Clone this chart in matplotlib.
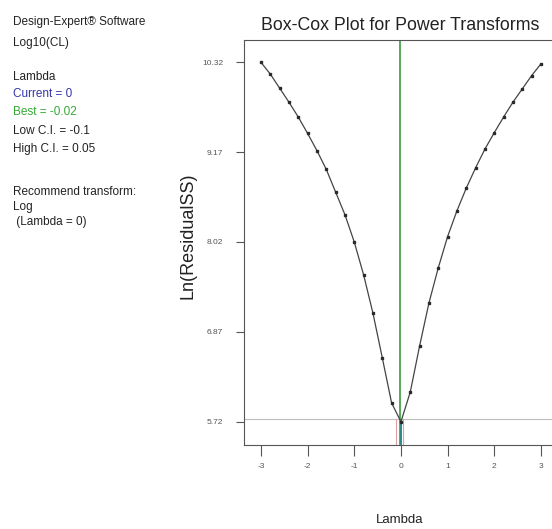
import numpy as np
import matplotlib
matplotlib.use("Agg")
import matplotlib.pyplot as plt

plt.rcParams["font.family"] = ["Liberation Sans", "DejaVu Sans"]

# Box-Cox curve (lambda step 0.2)
lam = [-3.0, -2.8, -2.6, -2.4, -2.2, -2.0, -1.8, -1.6, -1.4, -1.2, -1.0,
       -0.8, -0.6, -0.4, -0.2, 0.0, 0.2, 0.4, 0.6, 0.8, 1.0, 1.2, 1.4,
       1.6, 1.8, 2.0, 2.2, 2.4, 2.6, 2.8, 3.0]
ln_ss = [10.32, 10.17, 9.99, 9.81, 9.62, 9.41, 9.19, 8.95, 8.66, 8.37, 8.02,
         7.60, 7.11, 6.54, 5.96, 5.72, 6.10, 6.69, 7.24, 7.69, 8.09, 8.42, 8.71,
         8.97, 9.21, 9.42, 9.62, 9.81, 9.98, 10.15, 10.30]

y_ticks = [5.72, 6.87, 8.02, 9.17, 10.32]
x_ticks = [-3, -2, -1, 0, 1, 2, 3]

current = 0.0
best = -0.02
low_ci = -0.1
high_ci = 0.05
ci_level = 5.75

# side legend text: (text, colour, pixel row of its centre)
info_lines = [
    ("Design-Expert® Software", "#222222", 21.7),
    ("Log10(CL)", "#222222", 42.7),
    ("Lambda", "#222222", 76.7),
    ("Current = 0", "#3535a8", 94.3),
    ("Best = -0.02", "#35a835", 112.3),
    ("Low C.I. = -0.1", "#222222", 131.0),
    ("High C.I. = 0.05", "#222222", 149.3),
    ("Recommend transform:", "#222222", 191.7),
    ("Log", "#222222", 206.7),
    (" (Lambda = 0)", "#222222", 221.7),
]

W, H = 552, 529
fig = plt.figure(figsize=(W / 100, H / 100), dpi=100)
ax = fig.add_axes([244 / W, 1 - 445 / H, 1 - 244 / W, (445 - 40) / H])

ylo, yhi = 5.422, 10.605
ax.set_xlim(-3.362, 3.236)
ax.set_ylim(ylo, yhi)

# threshold line and lambda markers
ax.axhline(ci_level, color="#bdbdbd", linewidth=0.8, zorder=1)
ax.axvline(best, color="#3c9a3c", linewidth=1.2, zorder=2)
for c in (low_ci, high_ci):
    ax.plot([c, c], [ylo, ci_level], color="#e0a0a0", linewidth=0.8, zorder=2)
ax.plot([current, current], [ylo, ln_ss[lam.index(current)]],
        color="#2a8a8a", linewidth=1.4, zorder=3)

ax.plot(lam, ln_ss, color="#444444", linewidth=0.9, zorder=4)
ax.plot(lam, ln_ss, linestyle="none", marker="s", markersize=2.0,
        color="#2a2a2a", zorder=5)

ax.set_xticks(x_ticks)
ax.set_xticklabels([str(v) for v in x_ticks])
ax.set_yticks(y_ticks)
ax.set_yticklabels([f"{v:.2f}" for v in y_ticks])
ax.tick_params(axis="x", length=8, width=0.8, color="#555555",
               labelsize=6, labelcolor="#555555", pad=5)
ax.tick_params(axis="y", length=6, width=0.8, color="#555555",
               labelsize=6, labelcolor="#555555", pad=9)
for s in ("left", "bottom", "top"):
    ax.spines[s].set_color("#555555")
    ax.spines[s].set_linewidth(0.8)
ax.spines["right"].set_visible(False)

fig.text(400 / W, 1 - 26 / H, "Box-Cox Plot for Power Transforms",
         ha="center", va="center", fontsize=12.8, color="#222222")
fig.text(188 / W, 1 - 236 / H, "Ln(ResidualSS)", rotation=90, ha="center",
         va="center", fontsize=13, color="#222222")
fig.text(400 / W, 1 - 520 / H, "Lambda", ha="center", va="center",
         fontsize=9.5, color="#222222")

for txt, col, row in info_lines:
    fig.text(13 / W, 1 - row / H, txt, ha="left", va="center",
             fontsize=8.5, color=col)

fig.savefig("out.png", dpi=100)
